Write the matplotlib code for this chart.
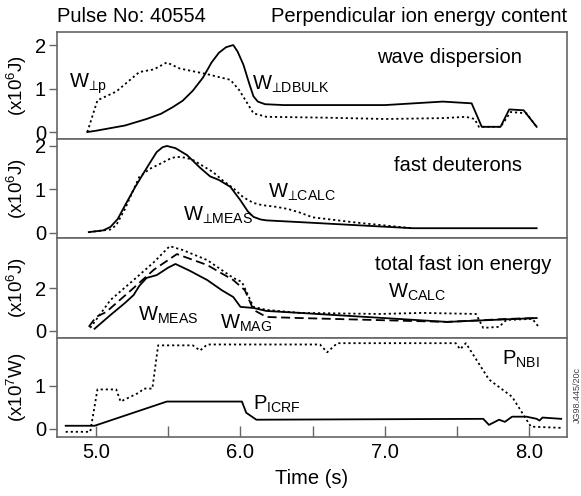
import matplotlib
matplotlib.use("Agg")
import matplotlib.pyplot as plt

plt.rcParams['font.family'] = ['Liberation Sans', 'DejaVu Sans']
plt.rcParams['mathtext.fontset'] = 'custom'
plt.rcParams['mathtext.rm'] = 'Liberation Sans'
plt.rcParams['mathtext.it'] = 'Liberation Sans'
plt.rcParams['mathtext.fallback'] = 'stixsans'

# ---- panel 1: wave dispersion ----
t_dbulk = [4.94, 5.00, 5.20, 5.35, 5.45, 5.53, 5.60, 5.67, 5.74, 5.80, 5.85, 5.90, 5.95,
           5.98, 6.02, 6.06, 6.09, 6.12, 6.17, 6.30, 7.00, 7.40, 7.60, 7.67, 7.80, 7.86,
           7.96, 8.05]
w_dbulk = [0.0, 0.03, 0.15, 0.30, 0.42, 0.57, 0.72, 0.95, 1.25, 1.60, 1.82, 1.95, 2.0,
           1.85, 1.55, 1.12, 0.82, 0.70, 0.64, 0.62, 0.62, 0.70, 0.66, 0.12, 0.12, 0.52,
           0.50, 0.12]
t_wp = [4.94, 5.01, 5.14, 5.30, 5.40, 5.49, 5.58, 5.77, 5.93, 5.99, 6.09, 6.18, 6.60,
        7.00, 7.40, 7.56, 7.62, 7.65, 7.80, 7.87, 7.98, 8.05]
w_wp = [0.0, 0.73, 0.93, 1.38, 1.44, 1.60, 1.46, 1.33, 1.20, 0.97, 0.43, 0.35, 0.33,
        0.30, 0.32, 0.35, 0.30, 0.12, 0.12, 0.46, 0.43, 0.12]

# ---- panel 2: fast deuterons ----
t_meas_perp = [4.95, 5.05, 5.10, 5.15, 5.21, 5.27, 5.33, 5.38, 5.42, 5.46, 5.49, 5.55,
               5.63, 5.72, 5.79, 5.85, 5.93, 6.00, 6.05, 6.09, 6.14, 6.18, 6.41, 7.19,
               8.05]
w_meas_perp = [0.02, 0.06, 0.14, 0.32, 0.69, 1.05, 1.38, 1.65, 1.86, 1.97, 2.0, 1.95,
               1.79, 1.50, 1.30, 1.22, 1.06, 0.75, 0.50, 0.37, 0.31, 0.29, 0.25, 0.11,
               0.11]
t_calc_perp = [4.95, 5.10, 5.14, 5.20, 5.26, 5.30, 5.37, 5.45, 5.52, 5.56, 5.62, 5.67,
               5.75, 5.81, 5.88, 5.95, 6.02, 6.09, 6.15, 6.25, 6.33, 6.41, 6.50, 6.80,
               7.19]
w_calc_perp = [0.02, 0.08, 0.18, 0.55, 1.00, 1.29, 1.47, 1.60, 1.72, 1.75, 1.73, 1.68,
               1.52, 1.40, 1.20, 1.03, 0.82, 0.69, 0.64, 0.60, 0.55, 0.47, 0.36, 0.24,
               0.11]

# ---- panel 3: total fast ion energy ----
t_meas = [4.99, 5.10, 5.20, 5.26, 5.30, 5.35, 5.42, 5.50, 5.55, 5.65, 5.77, 5.87, 5.95,
          6.00, 6.09, 6.18, 6.41, 7.43, 7.70, 8.05]
w_meas = [0.10, 0.74, 1.30, 1.67, 2.10, 2.47, 2.60, 2.95, 3.12, 2.80, 2.37, 1.90, 1.58,
          1.12, 1.07, 0.93, 0.84, 0.42, 0.50, 0.60]
t_mag = [4.95, 5.00, 5.07, 5.26, 5.40, 5.56, 5.77, 5.95, 6.03, 6.09, 6.18, 6.41, 7.43,
         7.85, 8.05]
w_mag = [0.19, 0.65, 0.88, 2.00, 2.85, 3.58, 3.07, 2.37, 1.90, 0.98, 0.65, 0.60, 0.42,
         0.56, 0.60]
t_calc = [4.96, 5.10, 5.26, 5.40, 5.51, 5.60, 5.77, 5.95, 6.01, 6.09, 6.18, 6.41, 6.96,
          7.26, 7.63, 7.68, 7.79, 7.84, 8.02, 8.07]
w_calc = [0.14, 1.44, 2.37, 3.20, 3.95, 3.77, 3.30, 2.47, 2.28, 1.12, 0.98, 0.84, 0.79,
          0.84, 0.79, 0.14, 0.19, 0.51, 0.56, 0.14]

# ---- panel 4: heating power ----
t_icrf = [4.79, 4.99, 5.49, 6.01, 6.04, 6.11, 7.68, 7.72, 7.79, 7.83, 7.88, 7.98, 8.05,
          8.07, 8.09, 8.22]
p_icrf = [0.07, 0.07, 0.63, 0.63, 0.37, 0.21, 0.23, 0.09, 0.21, 0.16, 0.28, 0.28, 0.23,
          0.19, 0.26, 0.23]
t_nbi = [4.79, 4.96, 5.01, 5.14, 5.17, 5.30, 5.33, 5.39, 5.43, 5.67, 5.72, 5.77, 6.55,
         6.60, 6.67, 7.49, 7.52, 7.56, 7.72, 7.88, 8.01, 8.23]
p_nbi = [-0.07, -0.07, 0.91, 0.91, 0.63, 0.84, 0.93, 0.93, 1.93, 1.93, 1.81, 1.95, 1.95,
         1.77, 1.98, 1.98, 1.84, 1.98, 1.14, 0.74, 0.05, 0.02]

dot = (0, (1.2, 1.6))
dash = (0, (5, 2.5))
frame_col = '#666666'
fs = 14.5

fig = plt.figure(figsize=(5.81, 4.96), dpi=100)
left, width = 57 / 581, 510 / 581
edges = [32, 139, 238, 338, 437]
ylims = [(-0.16, 2.30), (-0.115, 2.16), (-0.33, 4.33), (-0.19, 2.10)]
yticks = [[0, 1, 2], [0, 1, 2], [0, 2], [0, 1]]
axes = []
for i in range(4):
    b = 1 - edges[i + 1] / 496
    h = (edges[i + 1] - edges[i]) / 496
    ax = fig.add_axes([left, b, width, h])
    ax.set_xlim(4.73, 8.26)
    ax.set_ylim(*ylims[i])
    ax.set_yticks(yticks[i])
    ax.tick_params(axis='y', direction='out', length=6, width=1, color=frame_col,
                   labelsize=fs, pad=2)
    for s in ax.spines.values():
        s.set_color(frame_col)
        s.set_linewidth(1.2)
    ax.yaxis.set_label_coords(-0.054, 0.5)
    axes.append(ax)

ax1, ax2, ax3, ax4 = axes
for ax in axes[:3]:
    ax.tick_params(axis='x', bottom=False, labelbottom=False)

ax1.set_ylabel('(x10$^{6}$J)', fontsize=13.5)
ax2.set_ylabel('(x10$^{6}$J)', fontsize=13.5)
ax3.set_ylabel('(x10$^{6}$J)', fontsize=13.5)
ax4.set_ylabel('(x10$^{7}$W)', fontsize=13.5)

lw = 1.3
ax1.plot(t_dbulk, w_dbulk, color='black', lw=lw)
ax1.plot(t_wp, w_wp, color='black', lw=lw, linestyle=dot)
ax1.text(7.95, 1.72, 'wave dispersion', fontsize=fs, ha='right', va='center')
ax1.text(4.81, 1.1, r'$\mathregular{W_{⊥p}}$', fontsize=fs, va='center')
ax1.text(6.08, 1.1, r'$\mathregular{W_{⊥DBULK}}$', fontsize=fs, va='center')

ax2.plot(t_meas_perp, w_meas_perp, color='black', lw=lw)
ax2.plot(t_calc_perp, w_calc_perp, color='black', lw=lw, linestyle=dot)
ax2.text(7.95, 1.56, 'fast deuterons', fontsize=fs, ha='right', va='center')
ax2.text(6.19, 0.94, r'$\mathregular{W_{⊥CALC}}$', fontsize=fs, va='center')
ax2.text(5.60, 0.41, r'$\mathregular{W_{⊥MEAS}}$', fontsize=fs, va='center')

ax3.plot(t_meas, w_meas, color='black', lw=lw)
ax3.plot(t_mag, w_mag, color='black', lw=lw, linestyle=dash)
ax3.plot(t_calc, w_calc, color='black', lw=lw, linestyle=dot)
ax3.text(8.15, 3.1, 'total fast ion energy', fontsize=fs, ha='right', va='center')
ax3.text(7.02, 1.8, r'$\mathregular{W_{CALC}}$', fontsize=fs, va='center')
ax3.text(5.29, 0.74, r'$\mathregular{W_{MEAS}}$', fontsize=fs, va='center')
ax3.text(5.86, 0.37, r'$\mathregular{W_{MAG}}$', fontsize=fs, va='center')

ax4.plot(t_icrf, p_icrf, color='black', lw=lw)
ax4.plot(t_nbi, p_nbi, color='black', lw=lw, linestyle=dot)
ax4.text(7.81, 1.6, r'$\mathregular{P_{NBI}}$', fontsize=fs, va='center')
ax4.text(6.09, 0.56, r'$\mathregular{P_{ICRF}}$', fontsize=fs, va='center')
ax4.set_xticks([5, 6, 7, 8])
ax4.set_xticklabels(['5.0', '6.0', '7.0', '8.0'])
ax4.set_xticks([5.5, 6.5, 7.5], minor=True)
ax4.tick_params(axis='x', which='both', direction='in', length=8, width=1,
                color=frame_col, labelsize=fs, pad=4)
ax4.set_xlabel('Time (s)', fontsize=fs, labelpad=5)

fig.text(left, 1 - 16 / 496, 'Pulse No: 40554', fontsize=fs, ha='left', va='center')
fig.text(left + width, 1 - 16 / 496, 'Perpendicular ion energy content', fontsize=fs,
         ha='right', va='center')
fig.text(0.994, 1 - 395 / 496, 'JG98.445/20c', fontsize=6.5, rotation=90,
         ha='center', va='center', color='#444444')

fig.savefig('out.png', dpi=100)
